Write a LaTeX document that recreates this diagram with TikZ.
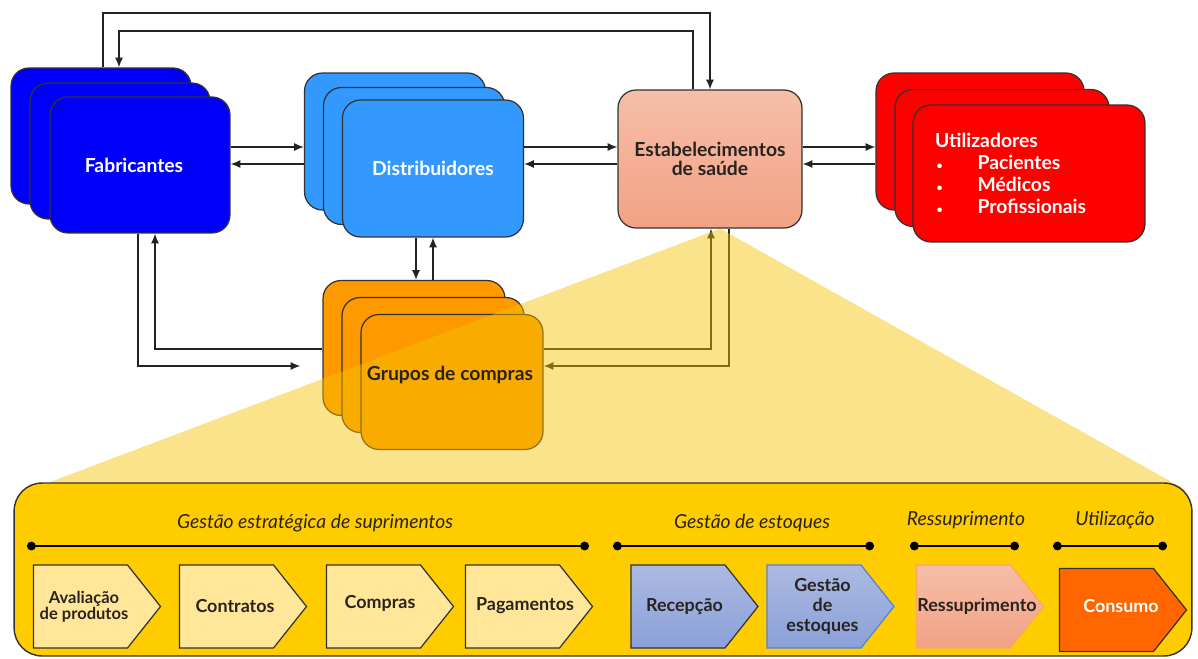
\documentclass[tikz,border=0pt]{standalone}
\usepackage{fontspec}
\setmainfont{Lato}
\usepackage{tikz}
\usetikzlibrary{
    arrows.meta,
    positioning,
    calc
}
\definecolor{FabBlue}{RGB}{0,0,250}
\definecolor{DistBlue}{RGB}{51,153,255}
\definecolor{UserRed}{RGB}{255,0,0}
\definecolor{GroupOrange}{RGB}{255,153,0}
\definecolor{SalmonTop}{RGB}{246,190,168}
\definecolor{SalmonBot}{RGB}{242,162,132}
\definecolor{PanelGold}{RGB}{255,204,0}
\definecolor{FanGold}{RGB}{244,194,0}
\definecolor{StepYellow}{RGB}{255,230,153}
\definecolor{StepBlueTop}{RGB}{172,186,226}
\definecolor{StepBlueBot}{RGB}{138,160,216}
\definecolor{StepBlueLine}{RGB}{84,130,210}
\definecolor{StepOrangeLine}{RGB}{250,170,90}
\definecolor{ConsOrange}{RGB}{255,102,0}
\definecolor{EdgeGray}{RGB}{50,50,50}
\definecolor{LineGray}{RGB}{35,35,35}
\definecolor{TextDark}{RGB}{40,35,30}
\tikzset{
  card/.style    = {draw=EdgeGray, line width=0.7pt, rounded corners=0.36cm,
                    minimum width=3.6cm, minimum height=2.72cm, align=center,
                    font=\fontsize{11}{11}\selectfont\bfseries},
  panel/.style   = {draw=EdgeGray, line width=0.8pt, rounded corners=0.56cm,
                    fill=PanelGold, minimum width=23.56cm, minimum height=3.46cm},
  phase/.style   = {font=\fontsize{11}{12}\selectfont\itshape, text=TextDark},
  steptext/.style= {align=center, font=\fontsize{10.2}{11.3}\selectfont\bfseries, text=TextDark},
  stepyel/.style = {draw=EdgeGray, line width=0.7pt, fill=StepYellow},
  span/.style    = {{Circle[length=5pt]}-{Circle[length=5pt]}, line width=1.1pt, black},
  arr/.style     = {-{Latex[length=5.5pt,width=4.5pt]}, line width=0.8pt, LineGray}
}
% chevron step, drawn from its centre coordinate
\newcommand{\stepshape}[2]{%
  \path[#2] ($(#1)+(-63.5,-41.5)$) -- ++(94,0) -- ++(33,41.5) -- ++(-33,41.5)
    -- ++(-94,0) -- cycle;}
\newcommand{\smallbullet}{{\fontsize{6}{6}\selectfont\textbullet}}

\begin{document}
\begin{tikzpicture}[x=0.02cm, y=-0.02cm]
\useasboundingbox (0,0) rectangle (1198,659);

% stacked boxes
\node[card, fill=FabBlue] (fab3) at (101,136) {};
\node[card, fill=FabBlue] (fab2) at (120,151) {};
\node[card, fill=FabBlue, text=white] (fab1) at (140,165) {\hspace*{-0.24cm}Fabricantes};

\node[card, fill=DistBlue, minimum width=3.62cm, minimum height=2.74cm] (dis3) at (395,141.5) {};
\node[card, fill=DistBlue, minimum width=3.62cm, minimum height=2.74cm] (dis2) at (414,156) {};
\node[card, fill=DistBlue, minimum width=3.62cm, minimum height=2.74cm, text=white]
    (dis1) at (433,168.5) {Distribuidores};

\node[card, top color=SalmonTop, bottom color=SalmonBot, text=TextDark,
      minimum width=3.68cm, minimum height=2.76cm]
    (est) at (710,159) {Estabelecimentos\\de saúde};

\node[card, fill=UserRed, minimum width=4.16cm, minimum height=2.74cm] (uti3) at (980,141.5) {};
\node[card, fill=UserRed, minimum width=4.28cm, minimum height=2.74cm] (uti2) at (1002,158) {};
\node[card, fill=UserRed, text=white, minimum width=4.64cm, minimum height=2.74cm,
      align=left, text width=3.76cm, inner xsep=0.44cm,
      font=\fontsize{11}{12.5}\selectfont\bfseries]
    (uti1) at (1029,173.5) {Utilizadores\\
      \hspace*{0.03cm}\smallbullet\hspace{0.7cm}Pacientes\\
      \hspace*{0.03cm}\smallbullet\hspace{0.7cm}Médicos\\
      \hspace*{0.03cm}\smallbullet\hspace{0.7cm}Profissionais};

\node[card, fill=GroupOrange, minimum width=3.64cm, minimum height=2.7cm] (gru3) at (414,348) {};
\node[card, fill=GroupOrange, minimum width=3.64cm, minimum height=2.7cm] (gru2) at (433,365) {};
\node[card, fill=GroupOrange, minimum width=3.64cm, minimum height=2.7cm] (gru1) at (452,382) {};

% routing levels
\coordinate (rowA) at (0,147);
\coordinate (rowB) at (0,164);
\coordinate (rowC) at (0,349);
\coordinate (rowD) at (0,366);
\coordinate (loopA) at (103,13);
\coordinate (loopB) at (693,31);

\draw[arr] (fab1.east |- rowA) -- (dis3.west |- rowA);
\draw[arr] (dis3.west |- rowB) -- (fab1.east |- rowB);
\draw[arr] (dis1.east |- rowA) -- (est.west |- rowA);
\draw[arr] (est.west |- rowB) -- (dis1.east |- rowB);
\draw[arr] (est.east |- rowA) -- (uti3.west |- rowA);
\draw[arr] (uti3.west |- rowB) -- (est.east |- rowB);

\draw[arr] (fab3.north -| loopA) -- (loopA) -| (est.north);
\draw[arr] (est.north -| loopB) -- (loopB) -| ($(fab3.north)+(18,0)$);

\draw[arr] ($(dis1.south)+(-17,0)$) -- ($(gru3.north)+(2,0)$);
\draw[arr] ($(gru3.north)+(19,0)$) -- ($(dis1.south)+(0,0)$);

\draw[arr] ($(fab1.south)+(-2,0)$) |- ($(gru3.west |- rowD)+(-22,0)$);
\draw[arr] (gru3.west |- rowC) -| ($(fab1.south)+(15,0)$);

\draw[arr] (gru1.east |- rowC) -| ($(est.south)+(1,0)$);
\draw[arr] ($(est.south)+(19,0)$) |- (gru1.east |- rowD);

% zoom fan
\coordinate (fanTop) at ($(est.south)+(10,0)$);
\fill[FanGold, fill opacity=0.46] (fanTop) -- (29,490) -- (1186,490) -- cycle;

\node[font=\fontsize{11}{11}\selectfont\bfseries, text=TextDark]
    (gruText) at ($(gru1)+(-2,-7)$) {Grupos de compras};

% process panel
\node[panel] (board) at (603,569.5) {};

\node[phase] (tStrat) at (315,523) {Gestão estratégica de suprimentos};
\node[phase] (tStock) at (752,523) {Gestão de estoques};
\node[phase] (tResup) at (966,520) {Ressuprimento};
\node[phase] (tUse)   at (1115,520) {Utilização};

\draw[span] (27,546) -- (589,546);
\draw[span] (613,546) -- (874,546);
\draw[span] (910,546) -- (1019,546);
\draw[span] (1053,546) -- (1167,546);

\coordinate (cAvl) at (97,606.5);
\coordinate (cCtr) at (243,606.5);
\coordinate (cCmp) at (390,606.5);
\coordinate (cPag) at (529,606.5);
\coordinate (cRec) at (694.5,606.5);
\coordinate (cGst) at (830.5,606.5);
\coordinate (cRsp) at (980,606.5);
\coordinate (cCns) at (1123,610);

\stepshape{cAvl}{stepyel}
\stepshape{cCtr}{stepyel}
\stepshape{cCmp}{stepyel}
\stepshape{cPag}{stepyel}
\stepshape{cRec}{draw=EdgeGray, line width=0.7pt, top color=StepBlueTop, bottom color=StepBlueBot}
\stepshape{cGst}{draw=StepBlueLine, line width=0.7pt, top color=StepBlueTop, bottom color=StepBlueBot}
\stepshape{cRsp}{draw=StepOrangeLine, line width=0.7pt, top color=SalmonTop, bottom color=SalmonBot}
\stepshape{cCns}{draw=EdgeGray, line width=0.7pt, fill=ConsOrange}

\node[steptext, font=\fontsize{9.4}{9}\selectfont\bfseries] (avl) at ($(cAvl)+(-13,0)$) {Avaliação\\de produtos};
\node[steptext] (ctr) at ($(cCtr)+(-8,0)$) {Contratos};
\node[steptext] (cmp) at ($(cCmp)+(-10,-3)$) {Compras};
\node[steptext] (pag) at ($(cPag)+(-4,-1)$) {Pagamentos};
\node[steptext] (rec) at ($(cRec)+(-10,0)$) {Recepção};
\node[steptext] (gst) at ($(cGst)+(-8,0)$) {Gestão\\de\\estoques};
\node[steptext] (rsp) at ($(cRsp)+(-3,0)$) {Ressuprimento};
\node[steptext, text=white] (cns) at ($(cCns)+(-2,-4)$) {Consumo};
\end{tikzpicture}
\end{document}
